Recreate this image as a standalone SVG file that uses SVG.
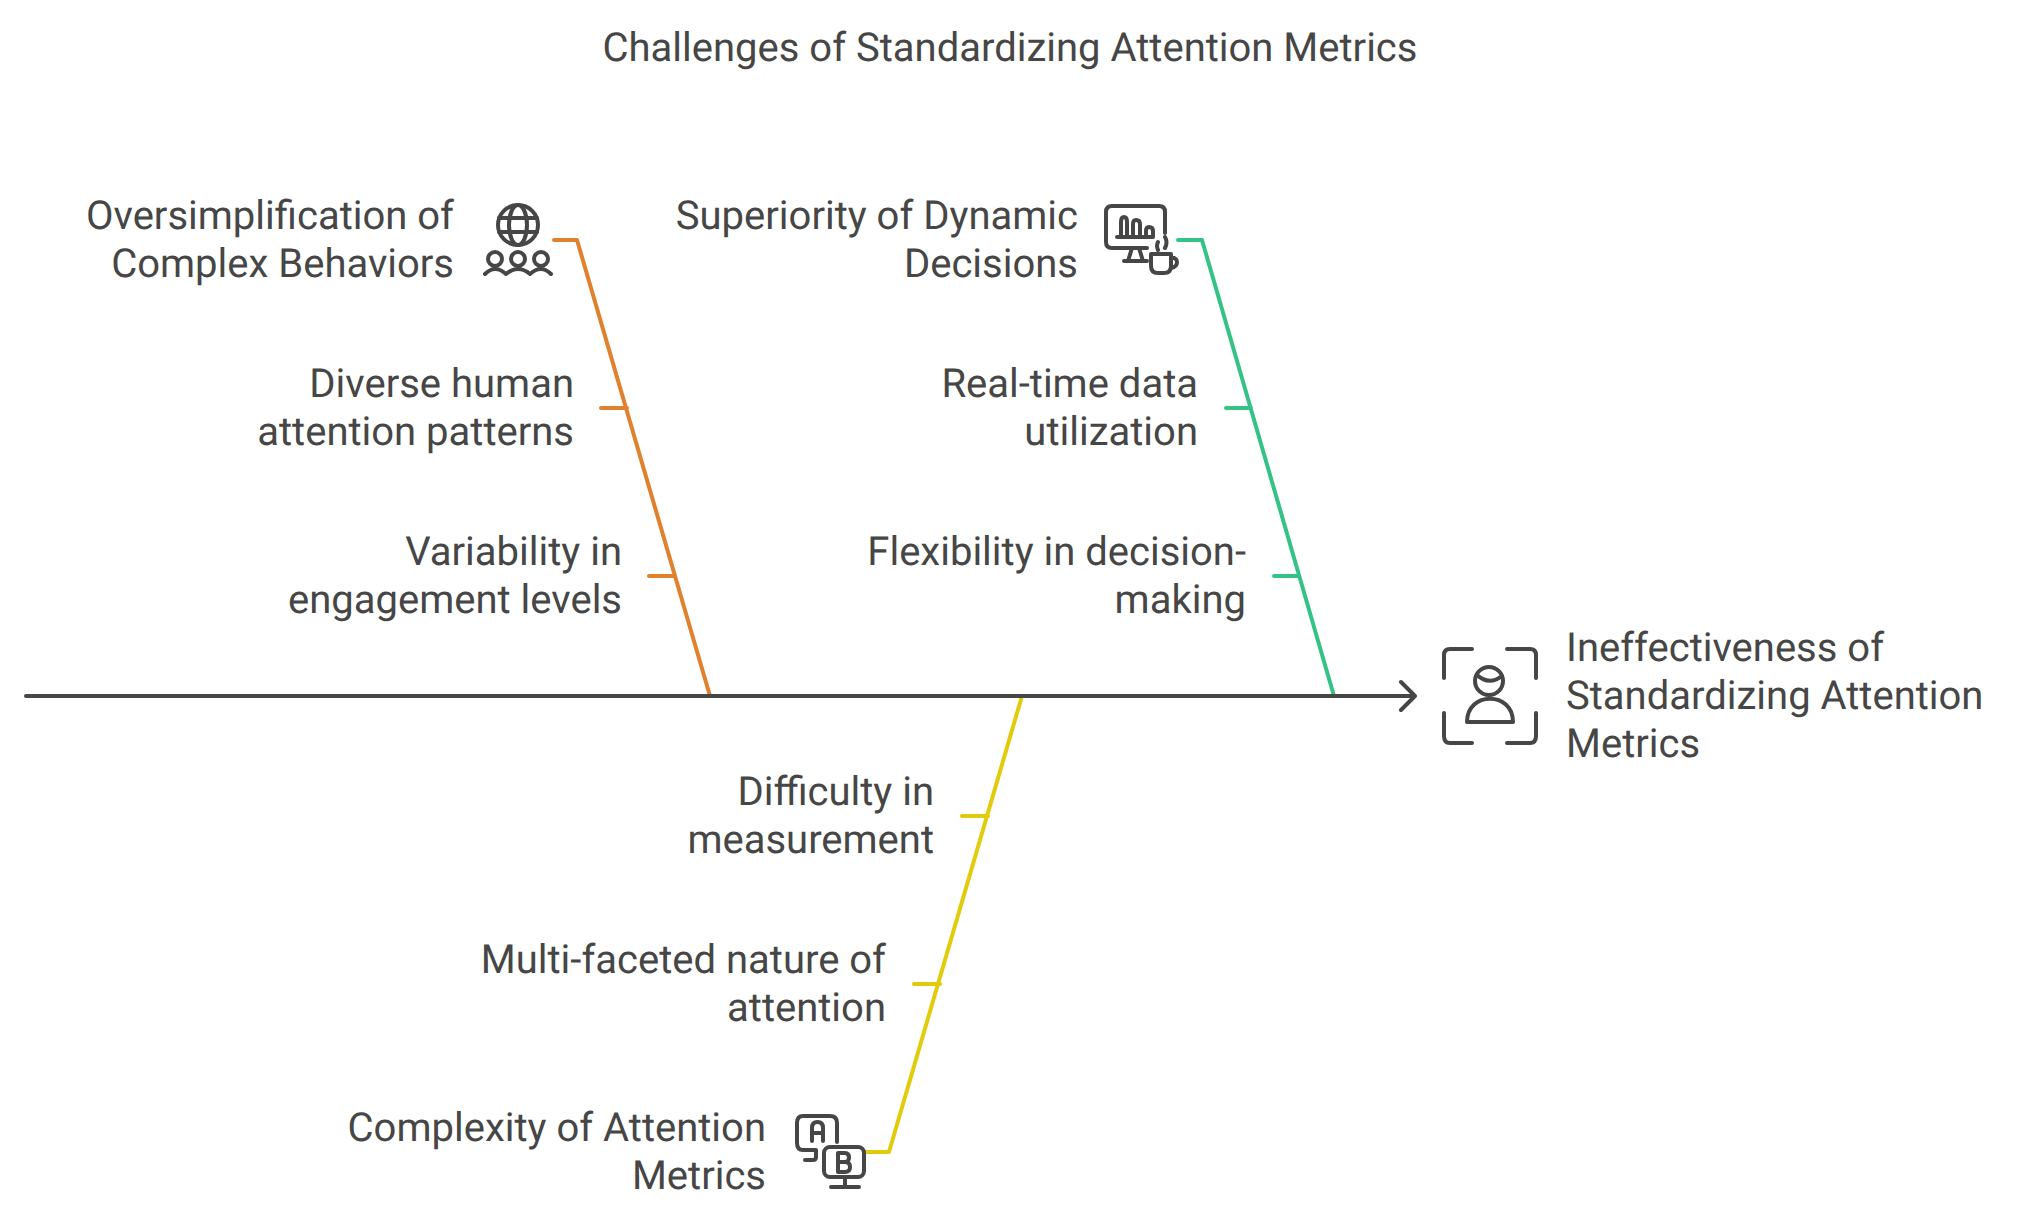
<svg xmlns="http://www.w3.org/2000/svg" width="2042" height="1225" viewBox="0 0 2042 1225">
<style>
text{font-family:Roboto,"Liberation Sans",sans-serif;font-size:40px;fill:#464646;text-rendering:geometricPrecision}
.r{text-anchor:end}
.c{fill:none;stroke-width:4;stroke-linecap:round;stroke-linejoin:round}
.i{fill:none;stroke:#464646;stroke-width:4;stroke-linecap:round;stroke-linejoin:round}
</style>
<rect width="2042" height="1225" fill="#fff"/>
<text id="title" x="1010" y="61" text-anchor="middle">Challenges of Standardizing Attention Metrics</text>
<g id="connectors">
<path class="c" stroke="#e0812f" d="M554 240H577L710 696M601 408H627M649 576H675"/>
<path class="c" stroke="#35c286" d="M1178 240H1202L1334 696M1226 408H1251M1274 576H1299"/>
<path class="c" stroke="#e2cb0c" d="M1022 696L889 1152H865M988 816H962M940 984H914"/>
<path fill="none" stroke="#464646" stroke-width="4" stroke-linecap="round" stroke-linejoin="round" d="M26 696H1414M1401 682L1415 696L1401 710"/>
</g>
<g id="n1">
<text class="r" x="454" y="229">Oversimplification of</text><text class="r" x="454" y="277">Complex Behaviors</text>
<g class="i"><circle cx="518" cy="225" r="20"/><ellipse cx="518" cy="225" rx="9" ry="20"/><path d="M499 218H537M499 232H537"/>
<circle cx="495" cy="259" r="7"/><circle cx="518" cy="259" r="7"/><circle cx="541" cy="259" r="7"/><path d="M485 274Q495 264 506 274Q518 264 530 274Q541 264 551 274"/></g>
</g>
<g id="n2"><text class="r" x="574" y="397">Diverse human</text><text class="r" x="574" y="445">attention patterns</text></g>
<g id="n3"><text class="r" x="622" y="565">Variability in</text><text class="r" x="622" y="613">engagement levels</text></g>
<g id="n4">
<text class="r" x="1078" y="229">Superiority of Dynamic</text><text class="r" x="1078" y="277">Decisions</text>
<g class="i"><path d="M1147 248H1112Q1106 248 1106 242V212Q1106 206 1112 206H1159Q1165 206 1165 212V233M1117 237H1153M1121 237V222Q1121 217 1124 217Q1127 217 1127 222V237M1133 237V224Q1133 220 1136 220Q1140 220 1140 224V237M1146 237V231Q1146 227 1149 227Q1153 227 1153 231V237M1132 248L1128 261M1139 248L1143 261M1124 261H1147"/>
<path d="M1151 254H1171V266Q1171 273 1164 273H1158Q1151 273 1151 266ZM1171 257Q1177 258 1177 262Q1177 267 1171 268M1158 242Q1156 246 1158 250M1165 237Q1168 242 1165 248"/></g>
</g>
<g id="n5"><text class="r" x="1198" y="397">Real-time data</text><text class="r" x="1198" y="445">utilization</text></g>
<g id="n6"><text class="r" x="1246" y="565">Flexibility in decision-</text><text class="r" x="1246" y="613">making</text></g>
<g id="n7">
<text x="1566" y="661">Ineffectiveness of</text><text x="1566" y="709">Standardizing Attention</text><text x="1566" y="757">Metrics</text>
<g class="i"><path d="M1444 678V655Q1444 649 1450 649H1472M1507 649H1530Q1536 649 1536 655V678M1444 713V736Q1444 743 1450 743H1472M1507 743H1530Q1536 743 1536 736V713"/>
<circle cx="1489" cy="681" r="14"/><path d="M1477 675Q1489 686 1502 676M1467 722C1467 691 1513 691 1513 722Z"/></g>
</g>
<g id="n8"><text class="r" x="934" y="805">Difficulty in</text><text class="r" x="934" y="853">measurement</text></g>
<g id="n9"><text class="r" x="886" y="973">Multi-faceted nature of</text><text class="r" x="886" y="1021">attention</text></g>
<g id="n10">
<text class="r" x="766" y="1141">Complexity of Attention</text><text class="r" x="766" y="1189">Metrics</text>
<g class="i"><path d="M837 1142V1123Q837 1116 830 1116H803Q797 1116 797 1123V1143Q797 1150 803 1150H816V1157Q816 1160 813 1160H805M812 1141V1128Q812 1122 817.500 1122Q823 1122 823 1128V1141M812 1133H823"/>
<rect x="824" y="1147" width="40" height="30" rx="6"/><path d="M838 1153V1172M838 1153H845Q849 1153 849 1157.500Q849 1162 845 1162H838M845 1162Q850 1162 850 1167Q850 1172 845 1172H838M845 1177V1187M831 1187H859"/></g>
</g>
</svg>
